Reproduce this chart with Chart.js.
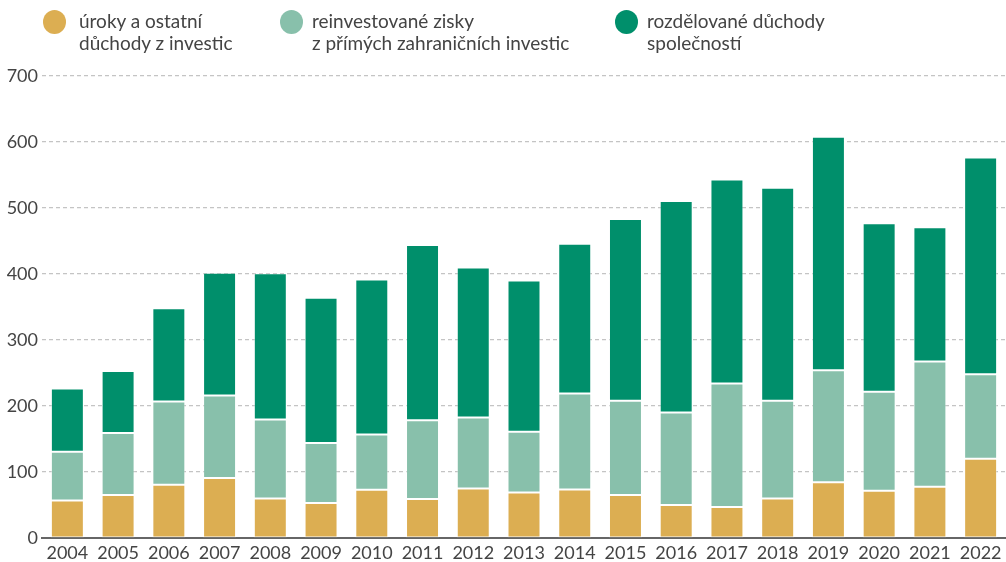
<!DOCTYPE html>
<html>
<head>
<meta charset="utf-8">
<script src="https://cdn.jsdelivr.net/npm/chart.js@4/dist/chart.umd.min.js"></script>
<style>
  html, body { margin: 0; padding: 0; background: #fff; }
  #wrap { position: relative; width: 1006px; height: 562px; }
  canvas { position: absolute; left: 0; top: 0; }
  .leg { position: absolute; font-family: Lato, "Open Sans", sans-serif; font-size: 19px; line-height: 21.5px; color: #444; white-space: nowrap; }
  .dot { position: absolute; width: 23px; height: 24px; border-radius: 50%; }
</style>
</head>
<body>
<div id="wrap">
  <canvas id="c" width="1006" height="562"></canvas>
</div>
<script>
const years = ["2004","2005","2006","2007","2008","2009","2010","2011","2012","2013","2014","2015","2016","2017","2018","2019","2020","2021","2022"];
const interest = [57, 65, 80.5, 91, 60, 53, 73, 59, 75, 69, 73.5, 65, 50, 47, 60, 84.5, 71.5, 77.5, 120];
const reinvested = [73.5, 94, 126.5, 125, 119.5, 91, 84, 119.5, 107.5, 92, 145.5, 143, 140, 187, 148, 169.5, 150, 190, 128];
const distributed = [96, 94, 141, 186, 221.5, 220, 234.5, 265.5, 227.5, 229, 227, 275.5, 320.5, 309, 322.5, 354, 255.5, 203.5, 328.5];
const seriesNames = [["úroky a ostatní", "důchody z investic"], ["reinvestované zisky", "z přímých zahraničních investic"], ["rozdělované důchody", "společností"]];
const yTicks = [0, 100, 200, 300, 400, 500, 600, 700];

const colors = ["#DCAE52", "#88C0AB", "#008F6B"];
const legendX = [43, 280, 615];
const legendTextX = [79, 312, 647];

const wrap = document.getElementById('wrap');
seriesNames.forEach((lines, i) => {
  const d = document.createElement('div');
  d.className = 'dot';
  d.style.left = legendX[i] + 'px';
  d.style.top = '10px';
  d.style.background = colors[i];
  wrap.appendChild(d);
  const t = document.createElement('div');
  t.className = 'leg';
  t.style.left = legendTextX[i] + 'px';
  t.style.top = '10px';
  t.innerHTML = lines.join('<br>');
  wrap.appendChild(t);
});

const font = { family: 'Lato, "Open Sans", sans-serif', size: 18 };
const mk = (label, data, color) => ({
  label, data, backgroundColor: color,
  borderColor: 'rgba(255,255,255,0.35)', borderWidth: 1, borderSkipped: false,
  categoryPercentage: 1, barPercentage: 0.65
});

new Chart(document.getElementById('c'), {
  type: 'bar',
  data: {
    labels: years,
    datasets: [
      mk(seriesNames[0].join(' '), interest, colors[0]),
      mk(seriesNames[1].join(' '), reinvested, colors[1]),
      mk(seriesNames[2].join(' '), distributed, colors[2])
    ]
  },
  options: {
    responsive: false,
    animation: false,
    layout: { padding: { top: 76, right: 0, left: 0, bottom: 0 } },
    plugins: { legend: { display: false }, tooltip: { enabled: false } },
    scales: {
      x: {
        stacked: true,
        grid: { display: false, drawTicks: false },
        border: { display: true, color: '#666', width: 2 },
        ticks: { color: '#444', font, padding: 4, maxRotation: 0, autoSkip: false },
        afterFit: s => { s.height = 24; }
      },
      y: {
        stacked: true,
        min: 0, max: 700,
        afterBuildTicks: s => { s.ticks = yTicks.map(v => ({ value: v })); },
        grid: { color: '#c4c4c4', lineWidth: 1.2, drawTicks: false },
        border: { display: false, dash: [4, 3] },
        ticks: { color: '#444', font, padding: 4 },
        afterFit: s => { s.width = 42; }
      }
    }
  }
});
</script>
</body>
</html>
